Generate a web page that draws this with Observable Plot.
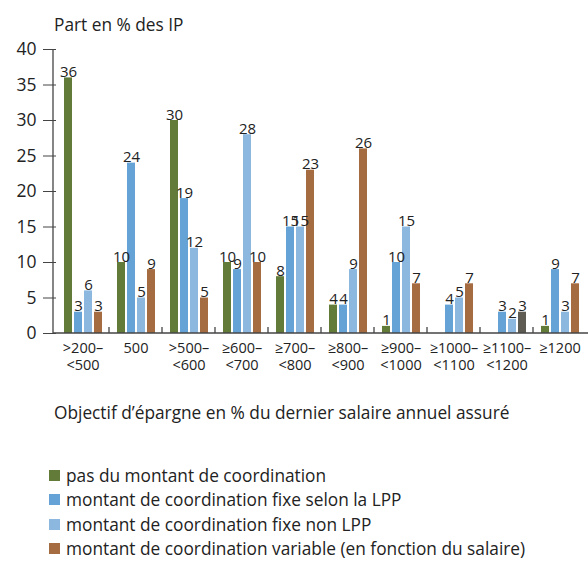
<!DOCTYPE html>
<html><head><meta charset="utf-8">
<script src="https://cdn.jsdelivr.net/npm/d3@7"></script>
<script src="https://cdn.jsdelivr.net/npm/@observablehq/plot@0.6"></script>
<style>
body{margin:0;background:#fff;font-family:"Open Sans",sans-serif;color:#222;width:588px;height:565px;position:relative;overflow:hidden}
#title{position:absolute;left:54px;top:13px;font-size:17.3px;line-height:24px}
#chart{position:absolute;left:0;top:38px}
#xtitle{position:absolute;left:54px;top:401px;font-size:17.3px;line-height:24px}
#legend{position:absolute;left:49px;top:463px;font-size:17.3px}
.row{display:flex;align-items:center;height:24.5px}
.sw{width:11px;height:11px;margin-right:6px}
</style></head><body>
<div id="title">Part en % des IP</div>
<div id="chart"></div>
<div id="xtitle">Objectif d’épargne en % du dernier salaire annuel assuré</div>
<div id="legend"></div>
<script>
const categories = [">200–<500","500",">500–<600","≥600–<700","≥700–<800","≥800–<900","≥900–<1000","≥1000–<1100","≥1100–<1200","≥1200"];
const seriesNames = ["pas du montant de coordination","montant de coordination fixe selon la LPP","montant de coordination fixe non LPP","montant de coordination variable (en fonction du salaire)"];
const pasCoord     = [36,10,30,10,8,4,1,null,null,1];
const fixeLPP      = [3,24,19,9,15,4,10,4,3,9];
const fixeNonLPP   = [6,5,12,28,15,9,15,5,2,3];
const variable     = [3,9,5,10,23,26,7,7,3,7];
const yTicks = [0,5,10,15,20,25,30,35,40];
const colors = ["#627b38","#65a2d5","#8cb8e0","#a56c42"];
const otherColor = "#5e5b53";
const otherKey = "≥1100–<1200";

const seriesValues = [pasCoord, fixeLPP, fixeNonLPP, variable];
const data = [];
categories.forEach((c,i)=>seriesValues.forEach((arr,s)=>{
  if(arr[i]!=null) data.push({cat:c, series:seriesNames[s], value:arr[i],
    key: (c===otherKey && s===3) ? "autre" : seriesNames[s]});
}));

const font = "Open Sans, sans-serif";
const plot = Plot.plot({
  width:588, height:345, marginTop:11, marginLeft:53, marginRight:0, marginBottom:50,
  style:{fontFamily:font, fontSize:"16px", color:"#222", background:"white", overflow:"visible"},
  fx:{domain:categories, padding:0, label:null},
  x:{domain:seriesNames, paddingInner:0.16, paddingOuter:0.62, align:0.55, axis:null},
  y:{domain:[0,40], label:null},
  color:{domain:[...seriesNames,"autre"], range:[...colors, otherColor]},
  marks:[
    Plot.axisY({ticks:yTicks, tickSize:13, tickPadding:7, fontSize:17.5, label:null, stroke:"#444"}),
    Plot.axisFx({anchor:"bottom", tickSize:0, tickPadding:7, fontSize:14.5, lineHeight:1.17, label:null,
      tickFormat:d=>d.replace("–","–\n")}),
    Plot.barY(data,{fx:"cat", x:"series", y:"value", fill:"key"}),
    Plot.text(data,{fx:"cat", x:"series", y:"value", text:d=>String(d.value), lineAnchor:"bottom", dy:-1, fontSize:15, fill:"#222"})
  ]
});
document.getElementById("chart").appendChild(plot);

// axis line, baseline and group separator ticks, placed from the scales
const svg = d3.select(plot);
const fx = plot.scale("fx"), y = plot.scale("y");
const y0 = y.apply(0), yTop = y.apply(40);
const g = svg.append("g").attr("stroke","#444").attr("stroke-width",1.3);
g.append("line").attr("x1",53).attr("x2",53).attr("y1",yTop).attr("y2",y0);
g.append("line").attr("x1",53).attr("x2",588).attr("y1",y0).attr("y2",y0);
categories.slice(1).forEach(c=>{
  const xx = fx.apply(c);
  g.append("line").attr("x1",xx).attr("x2",xx).attr("y1",y0).attr("y2",y0-6);
});

const legend = document.getElementById("legend");
seriesNames.forEach((n,i)=>{
  const r = document.createElement("div"); r.className="row";
  r.innerHTML = `<span class="sw" style="background:${colors[i]}"></span><span>${n}</span>`;
  legend.appendChild(r);
});
</script>
</body></html>
